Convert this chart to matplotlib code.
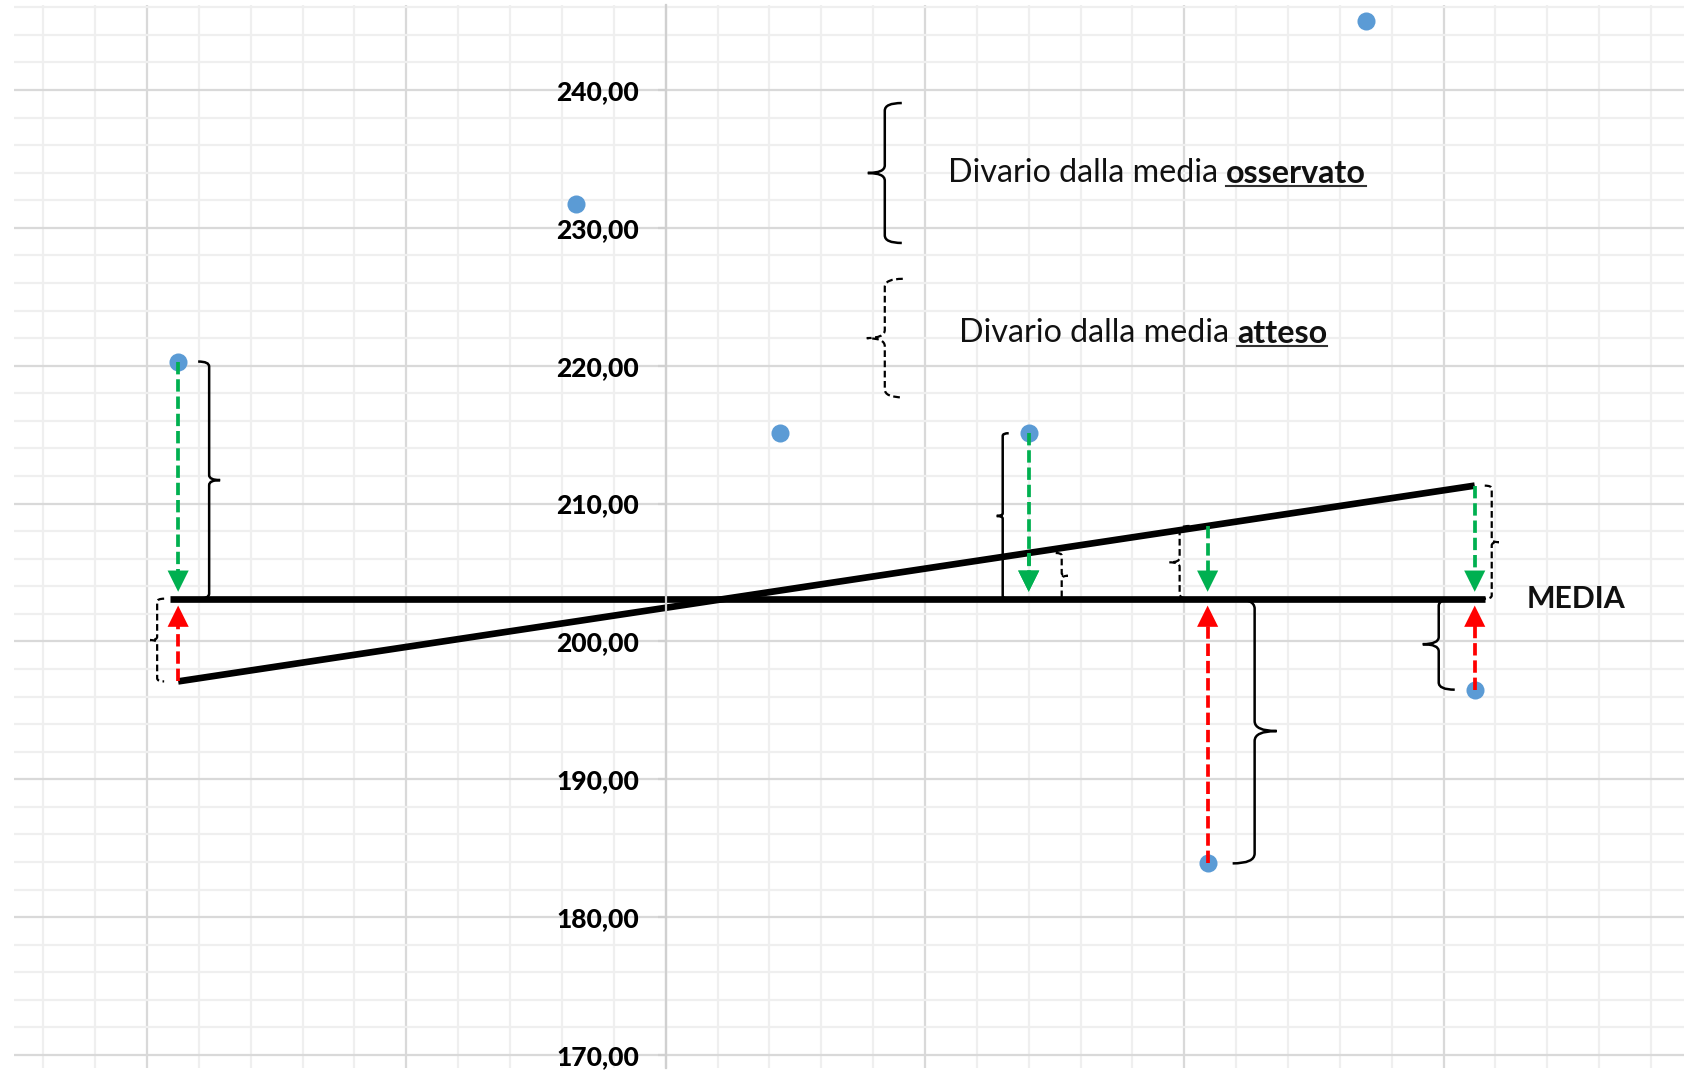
import numpy as np
import matplotlib
matplotlib.use("Agg")
import matplotlib.pyplot as plt
from matplotlib.ticker import MultipleLocator, FixedLocator, FixedFormatter
from matplotlib.lines import Line2D
from matplotlib.path import Path
from matplotlib.patches import PathPatch
from matplotlib.transforms import IdentityTransform

plt.rcParams['font.family'] = ['Lato', 'DejaVu Sans']

# observed values (x position on the hidden horizontal axis, y value)
X_OBS = [-18.8, -3.45, 4.4, 14.0, 20.9, 27.0, 31.2]
Y_OBS = [220.3, 231.7, 215.1, 215.1, 183.9, 245.0, 196.5]

# mean line and trend (expected) line
MEDIA = 203.1
MEDIA_X = [-19.1, 31.6]
TREND_X = [-18.8, 31.2]
TREND_Y = [197.1, 211.3]

Y_TICKS = [170, 180, 190, 200, 210, 220, 230, 240]
Y_LABELS = ["170,00", "180,00", "190,00", "200,00", "210,00", "220,00", "230,00", "240,00"]

# points with the gap annotations
ANNOTATED = [0, 3, 4, 6]

BLUE = "#5B9BD5"
GREEN = "#00B050"
RED = "#FF0000"

fig = plt.figure(figsize=(16.84, 10.73), dpi=100)
ax = fig.add_axes([14 / 1684, 5 / 1073, 1670 / 1684, 1063 / 1073])
ax.set_xlim(-25.13, 39.27)
ax.set_ylim(169.06, 246.16)

# excel style grid
ax.xaxis.set_major_locator(MultipleLocator(10))
ax.xaxis.set_minor_locator(MultipleLocator(2))
ax.yaxis.set_major_locator(FixedLocator(Y_TICKS))
ax.yaxis.set_major_formatter(FixedFormatter(Y_LABELS))
ax.yaxis.set_minor_locator(MultipleLocator(2))
ax.set_axisbelow(True)
ax.grid(which="minor", color="#EFEFEF", lw=1.6)
ax.grid(which="major", color="#D9D9D9", lw=1.6)
for s in ["top", "right", "bottom"]:
    ax.spines[s].set_visible(False)
ax.spines["left"].set_position(("data", 0))
ax.spines["left"].set_color("#D0D0D0")
ax.spines["left"].set_linewidth(1.6)
ax.tick_params(axis="x", which="both", length=0, labelbottom=False)
ax.tick_params(axis="y", which="minor", length=0)
ax.tick_params(axis="y", which="major", length=6, width=1.6, color="#D0D0D0",
               pad=13, labelsize=19)
for lab in ax.get_yticklabels():
    lab.set_fontweight("black")

px_x = ax.transData.transform((1, 0))[0] - ax.transData.transform((0, 0))[0]
px_y = ax.transData.transform((0, 1))[1] - ax.transData.transform((0, 0))[1]


def dx(p):
    return p / px_x


def trend(x):
    return np.interp(x, TREND_X, TREND_Y)


def draw_brace(x, y_a, y_b, side, dashed, size):
    # side +1 -> "}" tip to the right, -1 -> "{" tip to the left
    d = dx(size)
    top, bot = max(y_a, y_b), min(y_a, y_b)
    mid = (top + bot) / 2
    r = min(size * 0.45, (top - bot) * px_y / 6) / px_y
    h = x - side * d
    tp = x + side * d
    verts = [(h, top), (x, top), (x, top - r),
             (x, mid + r), (x, mid), (tp, mid),
             (x, mid), (x, mid - r),
             (x, bot + r), (x, bot), (h, bot)]
    codes = [Path.MOVETO, Path.CURVE3, Path.CURVE3,
             Path.LINETO, Path.CURVE3, Path.CURVE3,
             Path.CURVE3, Path.CURVE3,
             Path.LINETO, Path.CURVE3, Path.CURVE3]
    patch = PathPatch(Path(verts, codes), fill=False, edgecolor="black",
                      lw=1.8, zorder=5)
    if dashed:
        patch.set_linestyle((0, (3, 1.6)))
        patch.set_linewidth(1.6)
    ax.add_patch(patch)


def draw_arrow(x, y_from, y_to, color):
    head = 19 / px_y
    sign = 1 if y_from > y_to else -1
    tip = y_to + 0.5 * sign
    base = tip + sign * head
    ax.plot([x, x], [y_from, base], color=color, lw=2.7, dashes=(3.3, 1.3), zorder=4)
    ax.annotate("", xy=(x, tip), xytext=(x, base),
                arrowprops=dict(arrowstyle="-|>,head_length=15.3,head_width=7.6",
                                mutation_scale=1, color=color, lw=0,
                                shrinkA=0, shrinkB=0), zorder=4)


# lines
ax.plot(MEDIA_X, [MEDIA, MEDIA], color="black", lw=4.8, solid_capstyle="butt", zorder=2)
ax.plot(TREND_X, TREND_Y, color="black", lw=4.8, solid_capstyle="butt", zorder=2)

# points
ax.plot(X_OBS, Y_OBS, "o", ms=13, color=BLUE, mec="none", zorder=3)

# observed gaps: point -> media, expected gaps: trend -> media
for i in ANNOTATED:
    x, y = X_OBS[i], Y_OBS[i]
    t = trend(x)
    draw_arrow(x, y, MEDIA, GREEN if y > MEDIA else RED)
    draw_arrow(x, t, MEDIA, GREEN if t > MEDIA else RED)

# braces
draw_brace(X_OBS[0] + dx(31), Y_OBS[0], MEDIA, 1, False, 11)
draw_brace(X_OBS[3] - dx(26), Y_OBS[3], MEDIA, -1, False, 6)
draw_brace(X_OBS[4] + dx(47), MEDIA, Y_OBS[4], 1, False, 22)
draw_brace(X_OBS[6] - dx(36), MEDIA, Y_OBS[6], -1, False, 16)

draw_brace(X_OBS[0] - dx(21), MEDIA, trend(X_OBS[0]), -1, True, 7)
draw_brace(X_OBS[3] + dx(33), trend(X_OBS[3]), MEDIA, 1, True, 6)
draw_brace(X_OBS[4] - dx(28), trend(X_OBS[4]), MEDIA, -1, True, 10)
draw_brace(X_OBS[6] + dx(17), trend(X_OBS[6]), MEDIA, 1, True, 7)

# legend
draw_brace(8.45, 239.05, 228.9, -1, False, 17)
draw_brace(8.45, 226.3, 217.7, -1, True, 18)

bold_parts = []
for (x0, y0, word) in [(10.88, 233.32, "osservato"), (11.30, 221.72, "atteso")]:
    t1 = ax.text(x0, y0, "Divario dalla media", fontsize=23.2, va="baseline",
                 ha="left", color="#111111")
    t2 = ax.annotate(word, xy=(1, 0), xycoords=t1, xytext=(8, 0),
                     textcoords="offset pixels", va="bottom", ha="left",
                     fontsize=23.2, fontweight="bold", color="#111111")
    bold_parts.append(t2)

ax.text(MEDIA_X[1] + dx(42), MEDIA, "MEDIA", fontsize=21.8, fontweight="bold",
        va="center", ha="left", color="#111111")

# underline the bold words
fig.canvas.draw()
for t in bold_parts:
    bb = t.get_window_extent()
    fig.add_artist(Line2D([bb.x0, bb.x1], [bb.y0 + 2, bb.y0 + 2], lw=1.5,
                          color="#333333", transform=IdentityTransform()))

fig.savefig("out.png", dpi=100)
